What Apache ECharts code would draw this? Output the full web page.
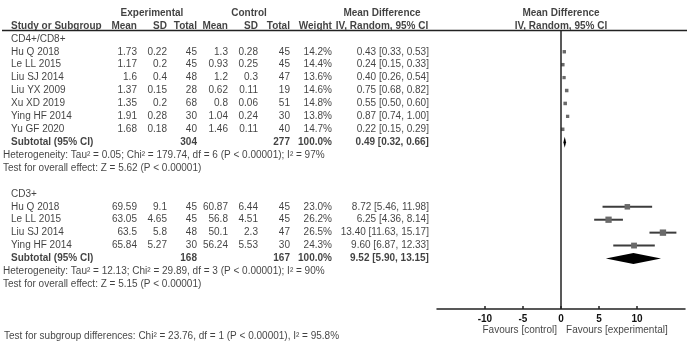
<!DOCTYPE html>
<html>
<head>
<meta charset="utf-8">
<script src="https://cdn.jsdelivr.net/npm/echarts@6/dist/echarts.min.js"></script>
<style>
  html, body { margin: 0; padding: 0; background: #fff; }
  #forest { width: 700px; height: 348px; }
</style>
</head>
<body>
<div id="forest"></div>
<script>
// ---- data: CD4+/CD8+ ----
var cd4Studies = ['Hu Q 2018', 'Le LL 2015', 'Liu SJ 2014', 'Liu YX 2009', 'Xu XD 2019', 'Ying HF 2014', 'Yu GF 2020'];
var cd4ExpMean = [1.73, 1.17, 1.6, 1.37, 1.35, 1.91, 1.68];
var cd4ExpSD = [0.22, 0.2, 0.4, 0.15, 0.2, 0.28, 0.18];
var cd4ExpN = [45, 45, 48, 28, 68, 30, 40];
var cd4CtlMean = [1.3, 0.93, 1.2, 0.62, 0.8, 1.04, 1.46];
var cd4CtlSD = [0.28, 0.25, 0.3, 0.11, 0.06, 0.24, 0.11];
var cd4CtlN = [45, 45, 47, 19, 51, 30, 40];
var cd4Weight = [14.2, 14.4, 13.6, 14.6, 14.8, 13.8, 14.7];
var cd4MD = [0.43, 0.24, 0.40, 0.75, 0.55, 0.87, 0.22];
var cd4Lo = [0.33, 0.15, 0.26, 0.68, 0.50, 0.74, 0.15];
var cd4Hi = [0.53, 0.33, 0.54, 0.82, 0.60, 1.00, 0.29];
var cd4Total = { expN: 304, ctlN: 277, md: 0.49, lo: 0.32, hi: 0.66 };
var cd4Het = 'Heterogeneity: Tau\u00b2 = 0.05; Chi\u00b2 = 179.74, df = 6 (P < 0.00001); I\u00b2 = 97%';
var cd4Test = 'Test for overall effect: Z = 5.62 (P < 0.00001)';

// ---- data: CD3+ ----
var cd3Studies = ['Hu Q 2018', 'Le LL 2015', 'Liu SJ 2014', 'Ying HF 2014'];
var cd3ExpMean = [69.59, 63.05, 63.5, 65.84];
var cd3ExpSD = [9.1, 4.65, 5.8, 5.27];
var cd3ExpN = [45, 45, 48, 30];
var cd3CtlMean = [60.87, 56.8, 50.1, 56.24];
var cd3CtlSD = [6.44, 4.51, 2.3, 5.53];
var cd3CtlN = [45, 45, 47, 30];
var cd3Weight = [23.0, 26.2, 26.5, 24.3];
var cd3MD = [8.72, 6.25, 13.40, 9.60];
var cd3Lo = [5.46, 4.36, 11.63, 6.87];
var cd3Hi = [11.98, 8.14, 15.17, 12.33];
var cd3Total = { expN: 168, ctlN: 167, md: 9.52, lo: 5.90, hi: 13.15 };
var cd3Het = 'Heterogeneity: Tau\u00b2 = 12.13; Chi\u00b2 = 29.89, df = 3 (P < 0.00001); I\u00b2 = 90%';
var cd3Test = 'Test for overall effect: Z = 5.15 (P < 0.00001)';

var subgroupTest = 'Test for subgroup differences: Chi\u00b2 = 23.76, df = 1 (P < 0.00001), I\u00b2 = 95.8%';
var tickValues = [-10, -5, 0, 5, 10];

// ---- layout ----
var ROW_TOP = 13, ROW_H = 12.92;
var PLOT_BOTTOM = 309;
var plotMaxRow = (PLOT_BOTTOM - ROW_TOP) / ROW_H;
var ruleRow = (30.5 - ROW_TOP) / ROW_H;
var favRow = (330 - ROW_TOP) / ROW_H;
// column anchors (px)
var X_NAME = 11, X_NOTE = 3, X_EMEAN = 137, X_ESD = 167, X_EN = 197,
    X_CMEAN = 228, X_CSD = 258, X_CN = 290, X_W = 332, X_CI = 429,
    X_CI_HEAD = 382, X_PLOT_HEAD = 561;

var cells = { l: [], r: [], rb: [], lb: [], cb: [] };
function cell(style, x, row, text) { cells[style].push([x, row, String(text)]); }
function fmt2(v) { return v.toFixed(2); }
function ciText(m, lo, hi) { return fmt2(m) + ' [' + fmt2(lo) + ', ' + fmt2(hi) + ']'; }

// headers
cell('cb', 152, 0, 'Experimental');
cell('cb', 249, 0, 'Control');
cell('cb', X_CI_HEAD, 0, 'Mean Difference');
cell('cb', X_PLOT_HEAD, 0, 'Mean Difference');
cell('lb', X_NAME, 1, 'Study or Subgroup');
cell('rb', X_EMEAN, 1, 'Mean');
cell('rb', X_ESD, 1, 'SD');
cell('rb', X_EN, 1, 'Total');
cell('rb', X_CMEAN, 1, 'Mean');
cell('rb', X_CSD, 1, 'SD');
cell('rb', X_CN, 1, 'Total');
cell('rb', X_W, 1, 'Weight');
cell('cb', X_CI_HEAD, 1, 'IV, Random, 95% CI');
cell('cb', X_PLOT_HEAD, 1, 'IV, Random, 95% CI');

var studyPts = [];
var totalPts = [];
function addGroup(startRow, title, names, em, esd, en, cm, csd, cn, w, md, lo, hi, tot, het, test) {
    cell('l', X_NAME, startRow, title);
    names.forEach(function (n, i) {
        var r = startRow + 1 + i;
        cell('l', X_NAME, r, n);
        cell('r', X_EMEAN, r, em[i]);
        cell('r', X_ESD, r, esd[i]);
        cell('r', X_EN, r, en[i]);
        cell('r', X_CMEAN, r, cm[i]);
        cell('r', X_CSD, r, csd[i]);
        cell('r', X_CN, r, cn[i]);
        cell('r', X_W, r, w[i].toFixed(1) + '%');
        cell('r', X_CI, r, ciText(md[i], lo[i], hi[i]));
        studyPts.push([md[i], r, lo[i], hi[i], w[i]]);
    });
    var sr = startRow + 1 + names.length;
    cell('lb', X_NAME, sr, 'Subtotal (95% CI)');
    cell('rb', X_EN, sr, tot.expN);
    cell('rb', X_CN, sr, tot.ctlN);
    cell('rb', X_W, sr, '100.0%');
    cell('rb', X_CI, sr, ciText(tot.md, tot.lo, tot.hi));
    totalPts.push([tot.md, sr, tot.lo, tot.hi]);
    cell('l', X_NOTE, sr + 1, het);
    cell('l', X_NOTE, sr + 2, test);
}
addGroup(2, 'CD4+/CD8+', cd4Studies, cd4ExpMean, cd4ExpSD, cd4ExpN, cd4CtlMean, cd4CtlSD, cd4CtlN,
    cd4Weight, cd4MD, cd4Lo, cd4Hi, cd4Total, cd4Het, cd4Test);
addGroup(14, 'CD3+', cd3Studies, cd3ExpMean, cd3ExpSD, cd3ExpN, cd3CtlMean, cd3CtlSD, cd3CtlN,
    cd3Weight, cd3MD, cd3Lo, cd3Hi, cd3Total, cd3Het, cd3Test);
cell('r', 557, favRow, 'Favours [control]');
cell('l', 566, favRow, 'Favours [experimental]');
cell('l', 4, 25, subgroupTest);

var FONT = "'Liberation Sans', Arial, sans-serif";
function textSeries(key, pos, bold) {
    return {
        type: 'scatter',
        xAxisIndex: 0, yAxisIndex: 0,
        symbolSize: 0.1,
        silent: true,
        itemStyle: { color: 'transparent' },
        data: cells[key],
        label: {
            show: true,
            position: pos,
            distance: 0,
            fontFamily: FONT,
            fontSize: 10,
            fontWeight: bold ? 'bold' : 'normal',
            color: '#111',
            formatter: function (p) { return p.value[2]; }
        }
    };
}

var chart = echarts.init(document.getElementById('forest'), null, { renderer: 'canvas' });
var option = {
    animation: false,
    backgroundColor: '#fff',
    grid: [
        { left: 0, width: 700, top: ROW_TOP, height: 25 * ROW_H },
        { left: 437, width: 248, top: ROW_TOP, height: PLOT_BOTTOM - ROW_TOP }
    ],
    xAxis: [
        { gridIndex: 0, type: 'value', min: 0, max: 700, show: false },
        {
            gridIndex: 1, type: 'value', min: -16.3, max: 16.3,
            splitLine: { show: false },
            axisLine: { onZero: false, lineStyle: { color: '#222', width: 1.5 } },
            axisTick: { inside: true, length: 3, customValues: tickValues, lineStyle: { color: '#222', width: 1.5 } },
            axisLabel: {
                customValues: tickValues, margin: 5, color: '#111',
                fontFamily: FONT, fontSize: 10, fontWeight: 'bold'
            }
        }
    ],
    yAxis: [
        { gridIndex: 0, type: 'value', min: 0, max: 25, inverse: true, show: false },
        { gridIndex: 1, type: 'value', min: 0, max: plotMaxRow, inverse: true, show: false }
    ],
    series: [
        textSeries('l', 'right', false),
        textSeries('r', 'left', false),
        textSeries('lb', 'right', true),
        textSeries('rb', 'left', true),
        textSeries('cb', 'inside', true),
        {   // header rule
            type: 'line', xAxisIndex: 0, yAxisIndex: 0, silent: true, symbol: 'none',
            data: [[2, ruleRow], [687, ruleRow]],
            lineStyle: { color: '#222', width: 1.5 }
        },
        {   // line of no effect
            type: 'line', xAxisIndex: 1, yAxisIndex: 1, silent: true, symbol: 'none',
            data: [[0, ruleRow], [0, plotMaxRow]],
            lineStyle: { color: '#222', width: 1.5 }
        },
        {   // study CIs and weighted squares
            type: 'custom', xAxisIndex: 1, yAxisIndex: 1, silent: true,
            data: studyPts,
            renderItem: function (params, api) {
                var c = api.coord([api.value(0), api.value(1)]);
                var a = api.coord([api.value(2), api.value(1)]);
                var b = api.coord([api.value(3), api.value(1)]);
                var s = api.value(4) * 0.24;
                return {
                    type: 'group',
                    children: [
                        { type: 'line', shape: { x1: a[0], y1: a[1], x2: b[0], y2: b[1] },
                          style: { stroke: '#3c3c3c', lineWidth: 2 } },
                        { type: 'rect', shape: { x: c[0] - s / 2, y: c[1] - s / 2, width: s, height: s },
                          style: { fill: '#6a6a6a' } }
                    ]
                };
            }
        },
        {   // pooled diamonds
            type: 'custom', xAxisIndex: 1, yAxisIndex: 1, silent: true,
            data: totalPts,
            renderItem: function (params, api) {
                var c = api.coord([api.value(0), api.value(1)]);
                var a = api.coord([api.value(2), api.value(1)]);
                var b = api.coord([api.value(3), api.value(1)]);
                var h = 5.5;
                return {
                    type: 'polygon',
                    shape: { points: [[a[0], c[1]], [c[0], c[1] - h], [b[0], c[1]], [c[0], c[1] + h]] },
                    style: { fill: '#000' }
                };
            }
        }
    ]
};
chart.setOption(option);
window.addEventListener('resize', function () { chart.resize(); });
</script>
</body>
</html>
